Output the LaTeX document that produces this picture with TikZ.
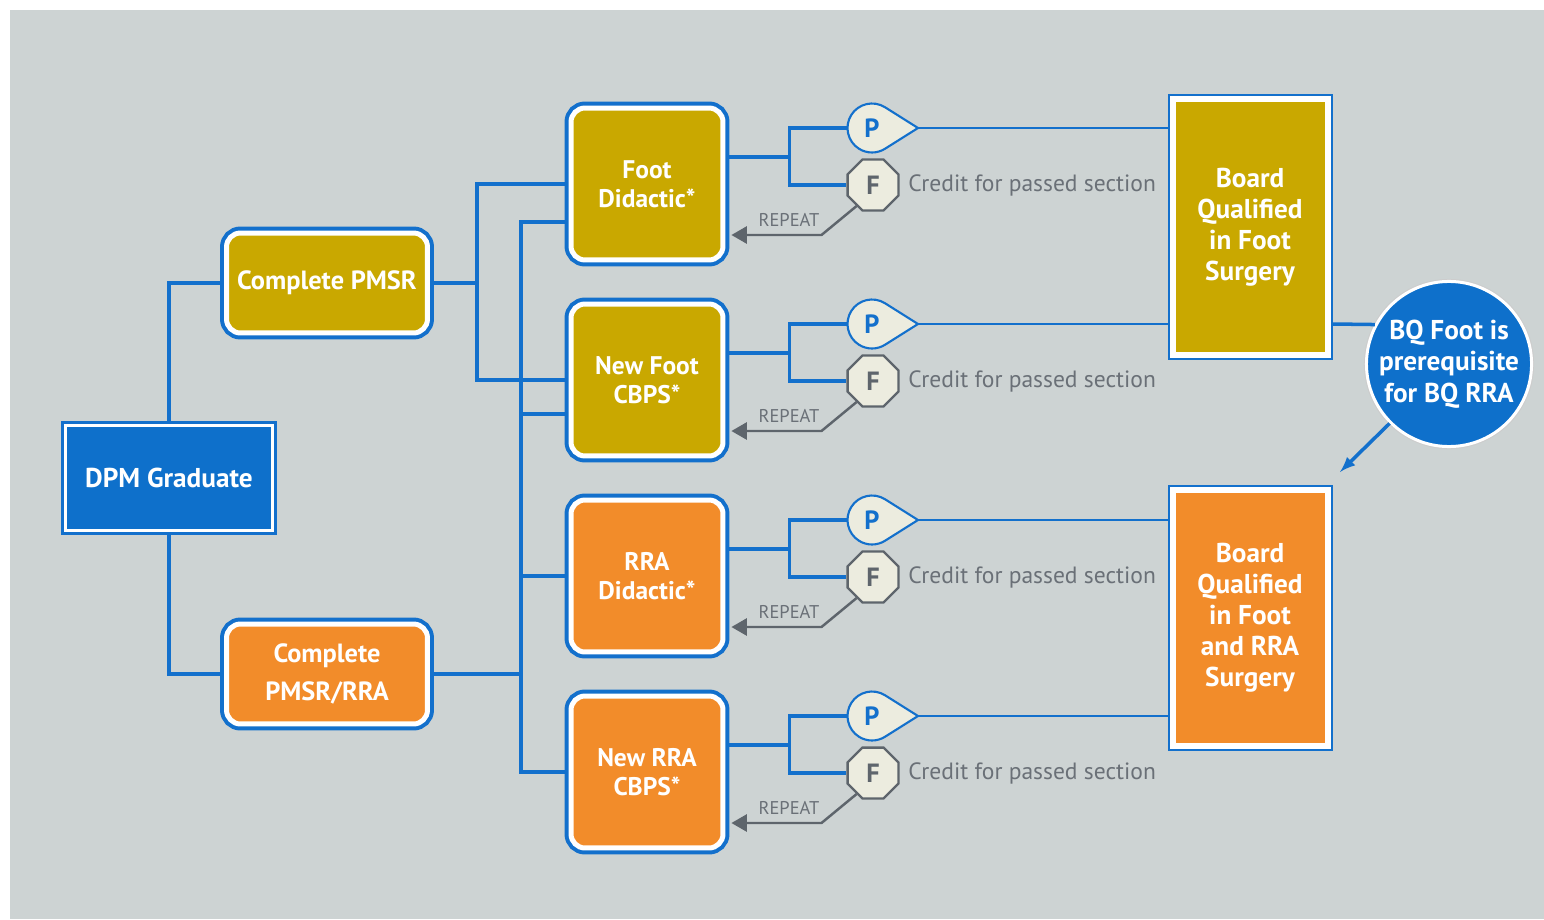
\documentclass[tikz,border=0pt]{standalone}
\usepackage{fontspec}
\setmainfont{PT Sans}
\usetikzlibrary{shapes.geometric}
\usetikzlibrary{arrows}
\usetikzlibrary{calc}

\definecolor{bggray}{HTML}{CDD3D3}
\definecolor{lineblue}{HTML}{1370CC}
\definecolor{dpmblue}{HTML}{0E70CB}
\definecolor{gold}{HTML}{C9A800}
\definecolor{rraorange}{HTML}{F28C2A}
\definecolor{flagfill}{HTML}{ECECDF}
\definecolor{flaggray}{HTML}{5E656C}
\definecolor{textgray}{HTML}{6A7077}

\tikzset{
  link/.style={draw=lineblue, line width=2pt},
  thinlink/.style={draw=lineblue, line width=1.2pt},
  stepbox/.style={rectangle, rounded corners=0.28cm,
    minimum width=3.04cm, minimum height=3.04cm,
    draw=white, line width=0.1cm,
    preaction={draw=lineblue, line width=0.26cm},
    outer sep=0.13cm, text=white, align=center,
    font=\bfseries\fontsize{14.5}{16.5}\selectfont},
  pmsrbox/.style={stepbox, minimum width=4.02cm, minimum height=2cm,
    font=\bfseries\fontsize{15}{21.5}\selectfont},
  dpmbox/.style={rectangle, minimum width=4.16cm, minimum height=2.12cm,
    draw=white, line width=0.06cm,
    preaction={draw=lineblue, line width=0.18cm},
    outer sep=0.09cm, fill=dpmblue, text=white,
    font=\bfseries\fontsize{15.5}{16.5}\selectfont},
  boardbox/.style={rectangle, minimum width=3.1cm, minimum height=5.14cm,
    draw=white, line width=0.12cm,
    preaction={draw=lineblue, line width=0.2cm},
    outer sep=0.1cm, text=white, align=center,
    font=\bfseries\fontsize{15.5}{17.6}\selectfont},
  notecircle/.style={circle, minimum size=3.3cm, inner sep=0pt,
    fill=dpmblue, draw=white, line width=0.06cm,
    preaction={draw=gray!40, line width=0.1cm},
    text=white, align=center,
    font=\bfseries\fontsize{15.5}{18}\selectfont},
  passflag/.style={fill=flagfill, draw=lineblue, line width=1.2pt},
  passletter/.style={circle, minimum size=0.98cm, inner sep=0pt,
    text=lineblue, font=\bfseries\fontsize{15}{15}\selectfont},
  failflag/.style={regular polygon, regular polygon sides=8,
    minimum size=1.1cm, inner sep=0pt,
    fill=flagfill, draw=flaggray, line width=1.3pt,
    text=flaggray, font=\bfseries\fontsize{15}{15}\selectfont},
  credit/.style={anchor=west, inner sep=0pt, text=textgray,
    font=\fontsize{13.4}{14}\selectfont},
  repeattext/.style={inner sep=0pt, text=textgray,
    font=\fontsize{10.5}{11}\selectfont},
  repeatline/.style={draw=flaggray, line width=1.4pt, -triangle 60}
}

% one row of results: #1 row id, #2 step box, #3 centre y, #4 board box
\newcommand{\outcome}[4]{%
  \filldraw[passflag] (872,#3-56) ++(58:0.49cm)
    arc[start angle=58, end angle=302, radius=0.49cm]
    -- (918,#3-56) coordinate (p#1tip) -- cycle;
  \node[passletter] (p#1) at (872,#3-56) {P};
  \node[failflag] (f#1) at (873,#3+1) {F};
  \node[credit] (c#1) at (908,#3+1) {Credit for passed section};
  \node[repeattext] (r#1) at (789,#3+36) {REPEAT};
  \draw[link] ($(#2.east)+(0,-27)$) -- ++(60,0) |- (p#1.west);
  \draw[link] ($(#2.east)+(0,-27)$) -- ++(60,0) |- (f#1.west);
  \draw[thinlink] (p#1tip) -- (p#1tip -| #4.west);
  \draw[repeatline] (f#1.232) -- ($(#2.east)+(92,51)$) -- ($(#2.east)+(2,51)$);
}

\begin{document}
\begin{tikzpicture}[x=0.02cm, y=-0.02cm]
\useasboundingbox (0,0) rectangle (1544,919);
\fill[bggray] (10,10) rectangle (1544,919);

% start and residency
\node[dpmbox] (dpm) at (169,478) {DPM Graduate};
\node[pmsrbox, fill=gold] (pmsr) at (327,283) {Complete PMSR};
\node[pmsrbox, fill=rraorange] (pmsrrra) at (327,674)
  {Complete\\PMSR/RRA};

% board sections
\node[stepbox, fill=gold] (foot) at (647,184) {Foot\\Didactic*};
\node[stepbox, fill=gold] (newfoot) at (647,380) {New Foot\\CBPS*};
\node[stepbox, fill=rraorange] (rra) at (647,576) {RRA\\Didactic*};
\node[stepbox, fill=rraorange] (newrra) at (647,772) {New RRA\\CBPS*};

% qualifications
\node[boardbox, fill=gold] (bqfoot) at (1250,227)
  {Board\\Qualified\\in Foot\\Surgery};
\node[boardbox, fill=rraorange] (bqrra) at (1250,618)
  {Board\\Qualified\\in Foot\\and RRA\\Surgery};
\node[notecircle] (bqnote) at (1449,364)
  {BQ Foot is\\prerequisite\\for BQ RRA};
\coordinate (bqarrow) at (1340,472);

\draw[link] (dpm.north) |- (pmsr.west);
\draw[link] (dpm.south) |- (pmsrrra.west);

\draw[link] (pmsr.east) -- ++(43,0) |- (foot.west);
\draw[link] (pmsr.east) -- ++(43,0) |- (newfoot.west);
\draw[link] (pmsrrra.east) -- ++(87,0) |- ($(foot.west)+(0,38)$);
\draw[link] (pmsrrra.east) -- ++(87,0) |- ($(newfoot.west)+(0,34)$);
\draw[link] (pmsrrra.east) -- ++(87,0) |- (rra.west);
\draw[link] (pmsrrra.east) -- ++(87,0) |- (newrra.west);

\outcome{1}{foot}{184}{bqfoot}
\outcome{2}{newfoot}{380}{bqfoot}
\outcome{3}{rra}{576}{bqrra}
\outcome{4}{newrra}{772}{bqrra}

\draw[link] (bqfoot.east |- p2tip) -- (bqnote.152);
\draw[link, -latex] (bqnote.225) -- (bqarrow);
\end{tikzpicture}
\end{document}
